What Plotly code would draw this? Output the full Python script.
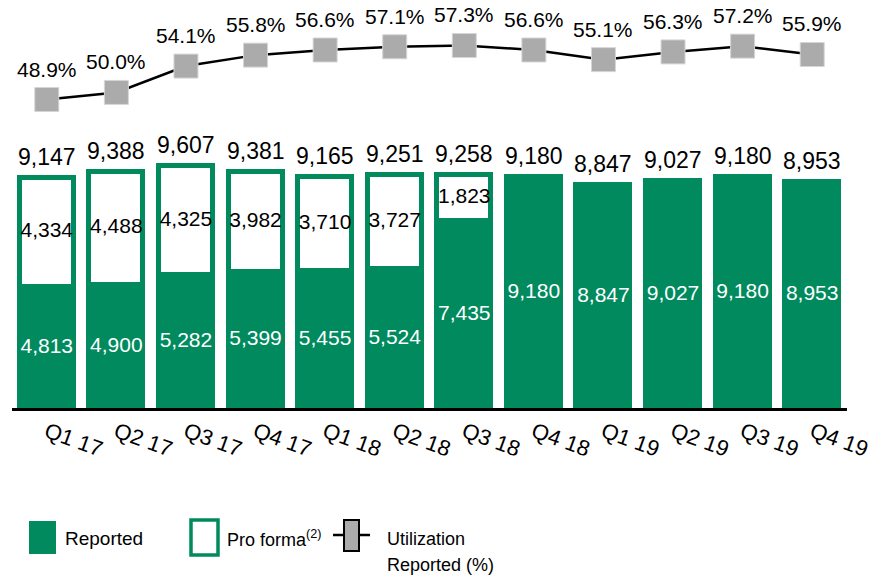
import plotly.graph_objects as go

# ---- data ----
quarters = ["Q1 17", "Q2 17", "Q3 17", "Q4 17", "Q1 18", "Q2 18", "Q3 18",
            "Q4 18", "Q1 19", "Q2 19", "Q3 19", "Q4 19"]
reported = [4813, 4900, 5282, 5399, 5455, 5524, 7435, 9180, 8847, 9027, 9180, 8953]
pro_forma_add = [4334, 4488, 4325, 3982, 3710, 3727, 1823, None, None, None, None, None]
totals = [9147, 9388, 9607, 9381, 9165, 9251, 9258, 9180, 8847, 9027, 9180, 8953]
utilization = [48.9, 50.0, 54.1, 55.8, 56.6, 57.1, 57.3, 56.6, 55.1, 56.3, 57.2, 55.9]

GREEN = "#008A5E"
GREY = "#ABABAB"
FONT = "Arial, Liberation Sans, sans-serif"

W, H = 875, 577
L, R, T, B = 12, 28, 10, 169
PW, PH = W - L - R, H - T - B


def px(x):
    return (x - L) / PW


def py(y):
    return (H - B - y) / PH


fig = go.Figure()

fig.add_trace(go.Bar(
    x=quarters, y=reported, marker=dict(color=GREEN, line=dict(color=GREEN, width=5)),
    width=0.776, hoverinfo="skip", showlegend=False))
fig.add_trace(go.Bar(
    x=quarters, y=pro_forma_add, marker=dict(color="white", line=dict(color=GREEN, width=5)),
    width=0.776, hoverinfo="skip", showlegend=False))

# inside labels
fig.add_trace(go.Scatter(
    x=quarters, y=[v / 2 for v in reported], mode="text",
    text=[f"{v:,}" for v in reported],
    textfont=dict(color="white", size=21, family=FONT),
    hoverinfo="skip", showlegend=False))
pf_q = [q for q, a in zip(quarters, pro_forma_add) if a]
pf_y = [r + a / 2 for r, a in zip(reported, pro_forma_add) if a]
pf_t = [f"{a:,}" for a in pro_forma_add if a]
fig.add_trace(go.Scatter(
    x=pf_q, y=pf_y, mode="text", text=pf_t,
    textfont=dict(color="black", size=21, family=FONT),
    hoverinfo="skip", showlegend=False))

# utilization line
fig.add_trace(go.Scatter(
    x=quarters, y=utilization, yaxis="y2", mode="lines+markers",
    line=dict(color="black", width=2.5),
    marker=dict(symbol="square", size=24, color=GREY, line=dict(color="#D6D6D6", width=1)),
    hoverinfo="skip", showlegend=False))

annotations = []
for q, t in zip(quarters, totals):
    annotations.append(dict(x=q, y=t, xref="x", yref="y", text=f"{t:,}", showarrow=False,
                            yanchor="bottom", yshift=6,
                            font=dict(size=23, color="black", family=FONT)))
for q, u in zip(quarters, utilization):
    annotations.append(dict(x=q, y=u, xref="x", yref="y2", text=f"{u:.1f}%", showarrow=False,
                            yanchor="bottom", yshift=17,
                            font=dict(size=21, color="black", family=FONT)))

# legend (custom)
shapes = [
    dict(type="rect", xref="paper", yref="paper", x0=px(29), x1=px(56), y0=py(554), y1=py(521),
         fillcolor=GREEN, line=dict(width=0)),
    dict(type="rect", xref="paper", yref="paper", x0=px(191), x1=px(218), y0=py(555), y1=py(520),
         fillcolor="white", line=dict(color=GREEN, width=3.5)),
    dict(type="line", xref="paper", yref="paper", x0=px(333), x1=px(370), y0=py(535), y1=py(535),
         line=dict(color="black", width=2.5)),
    dict(type="rect", xref="paper", yref="paper", x0=px(344), x1=px(359), y0=py(551), y1=py(520),
         fillcolor=GREY, line=dict(color="black", width=2)),
]
annotations += [
    dict(xref="paper", yref="paper", x=px(63), y=py(538), text="Reported", showarrow=False,
         xanchor="left", yanchor="middle", font=dict(size=19, color="black", family=FONT)),
    dict(xref="paper", yref="paper", x=px(225), y=py(538), text="Pro forma<sup>(2)</sup>",
         showarrow=False, xanchor="left", yanchor="middle",
         font=dict(size=18, color="black", family=FONT)),
    dict(xref="paper", yref="paper", x=px(385), y=py(539), text="Utilization",
         showarrow=False, xanchor="left", yanchor="middle", align="left",
         font=dict(size=18, color="black", family=FONT)),
    dict(xref="paper", yref="paper", x=px(385), y=py(565), text="Reported (%)",
         showarrow=False, xanchor="left", yanchor="middle", align="left",
         font=dict(size=18, color="black", family=FONT)),
]

fig.update_layout(
    width=W, height=H, margin=dict(l=L, r=R, t=T, b=B, autoexpand=False),
    plot_bgcolor="white", paper_bgcolor="white",
    barmode="stack", bargap=0,
    font=dict(family=FONT, color="black"),
    xaxis=dict(type="category", categoryorder="array", categoryarray=quarters,
               range=[-0.5, 11.5], showgrid=False, zeroline=False, automargin=False,
               showline=True, linecolor="black", linewidth=2.5,
               ticks="", tickangle=20, tickfont=dict(size=22, family=FONT)),
    yaxis=dict(range=[0, 15800], visible=False, showgrid=False, zeroline=False,
               automargin=False),
    yaxis2=dict(range=[0.92, 62.82], overlaying="y", visible=False, showgrid=False,
                zeroline=False, automargin=False),
    annotations=annotations, shapes=shapes,
)

fig.write_html("out.html", config={"displayModeBar": False},
               post_script="document.body.style.margin='0px';")
